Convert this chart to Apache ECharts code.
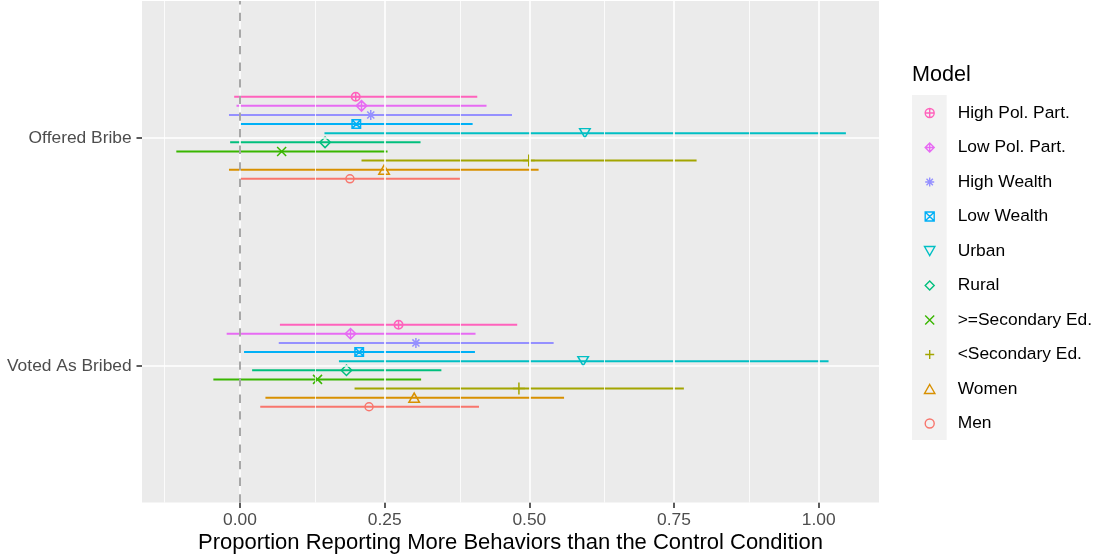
<!DOCTYPE html>
<html>
<head>
<meta charset="utf-8">
<title>Proportion Reporting More Behaviors than the Control Condition</title>
<script src="https://cdn.jsdelivr.net/npm/echarts@6/dist/echarts.min.js"></script>
<style>
  html, body { margin: 0; padding: 0; background: #ffffff; }
  #chart { width: 1098px; height: 555px; }
</style>
</head>
<body>
<div id="chart"></div>
<script>
// Outcomes, bottom to top on the vertical axis (positions 1 and 2)
const outcomes = ['Voted As Bribed', 'Offered Bribe'];

// Subgroup models, in factor order (first one is drawn lowest in each block)
const models = ['Men', 'Women', '<Secondary Ed.', '>=Secondary Ed.', 'Rural',
                'Urban', 'Low Wealth', 'High Wealth', 'Low Pol. Part.', 'High Pol. Part.'];

// Estimates with 95% interval bounds, one value per model
const offeredEst = [0.190, 0.249, 0.499, 0.072, 0.147, 0.596, 0.201, 0.226, 0.210, 0.200];
const offeredLo  = [0.001, -0.019, 0.210, -0.110, -0.017, 0.146, 0.001, -0.019, -0.006, -0.010];
const offeredHi  = [0.380, 0.516, 0.789, 0.255, 0.312, 1.047, 0.402, 0.470, 0.426, 0.410];

const votedEst = [0.223, 0.301, 0.482, 0.134, 0.184, 0.593, 0.206, 0.304, 0.191, 0.274];
const votedLo  = [0.035, 0.044, 0.198, -0.046, 0.021, 0.171, 0.007, 0.067, -0.023, 0.069];
const votedHi  = [0.413, 0.560, 0.767, 0.313, 0.348, 1.017, 0.406, 0.542, 0.407, 0.479];

// Axis ticks and gridlines
const xTicks = [0, 0.25, 0.5, 0.75, 1];
const xMinor = [-0.125, 0.125, 0.375, 0.625, 0.875];
const yTicks = [1, 2];

// ---- styling ----
const colors = ['#F8766D', '#D89000', '#A3A500', '#39B600', '#00BF7D',
                '#00BFC4', '#00B0F6', '#9590FF', '#E76BF3', '#FF62BC'];
const CIRCLE = 'M0,-1A1,1 0 1,1 0,1A1,1 0 1,1 0,-1Z';
const PLUS = 'M-1,0L1,0M0,-1L0,1';
const CROSS = 'M-1,-1L1,1M-1,1L1,-1';
const DIAMOND = 'M0,-1L1,0L0,1L-1,0Z';
const SQUARE = 'M-1,-1L1,-1L1,1L-1,1Z';
const shapes = [
  CIRCLE,
  'M0,-1L1,0.732L-1,0.732Z',
  PLUS,
  CROSS,
  DIAMOND,
  'M-1,-0.732L1,-0.732L0,1Z',
  SQUARE + 'M-1,-1L1,1M-1,1L1,-1',
  PLUS + 'M-0.707,-0.707L0.707,0.707M-0.707,0.707L0.707,-0.707',
  DIAMOND + PLUS,
  CIRCLE + PLUS
].map(p => 'path://' + p);
const shapeSizes = [8, [10.5, 9.1], 12, 9, 10.5, [10.5, 9.1], 8.5, 10, 10.5, 8.5];

const FONT = '"Liberation Sans", Arial, Helvetica, sans-serif';
const xMin = -0.1693, xMax = 1.1042;
const dodgeStep = 0.04;

const series = [];

// gridlines and the reference line at zero
series.push({
  type: 'line', z: 1, silent: true, data: [[0, 1]],
  showSymbol: false, symbol: 'none', lineStyle: { width: 0 },
  markLine: {
    silent: true, animation: false, symbol: ['none', 'none'],
    label: { show: false },
    data: [
      ...xMinor.map(v => ({ xAxis: v, lineStyle: { color: '#ffffff', width: 0.8, type: 'solid' } })),
      ...xTicks.map(v => ({ xAxis: v, lineStyle: { color: '#ffffff', width: 1.6, type: 'solid' } })),
      ...yTicks.map(v => ({ yAxis: v, lineStyle: { color: '#ffffff', width: 1.6, type: 'solid' } })),
      { xAxis: 0, lineStyle: { color: '#999999', width: 1.7, type: [8.3, 8.3] } }
    ]
  }
});

// interval bars, dodged within each outcome
models.forEach((m, k) => {
  const off = (k - (models.length - 1) / 2) * dodgeStep;
  series.push({
    type: 'custom', name: m, z: 2, silent: true,
    data: [[votedLo[k], votedHi[k], 1 + off], [offeredLo[k], offeredHi[k], 2 + off]],
    encode: { x: [0, 1], y: 2 },
    renderItem: (params, api) => {
      const a = api.coord([api.value(0), api.value(2)]);
      const b = api.coord([api.value(1), api.value(2)]);
      return {
        type: 'line',
        shape: { x1: a[0], y1: a[1], x2: b[0], y2: b[1] },
        style: { stroke: colors[k], lineWidth: 2 }
      };
    }
  });
});

// point estimates
models.forEach((m, k) => {
  const off = (k - (models.length - 1) / 2) * dodgeStep;
  series.push({
    type: 'scatter', name: m, z: 3, silent: true,
    data: [[votedEst[k], 1 + off], [offeredEst[k], 2 + off]],
    symbol: shapes[k], symbolSize: shapeSizes[k],
    itemStyle: { color: 'rgba(0,0,0,0)', borderColor: colors[k], borderWidth: 1.5, opacity: 1 }
  });
});

const chart = echarts.init(document.getElementById('chart'), null, { renderer: 'canvas' });
chart.setOption({
  animation: false,
  backgroundColor: '#ffffff',
  grid: {
    left: 142, right: 219, top: 1, bottom: 52.5,
    show: true, backgroundColor: '#EBEBEB', borderWidth: 0
  },
  xAxis: {
    type: 'value', min: xMin, max: xMax,
    axisLine: { show: false, onZero: false },
    splitLine: { show: false },
    axisTick: { show: true, customValues: xTicks, length: 5.5, lineStyle: { color: '#333333', width: 1.6 } },
    axisLabel: {
      customValues: xTicks, margin: 9,
      color: '#4D4D4D', fontSize: 17.4, fontFamily: FONT,
      formatter: v => v.toFixed(2)
    }
  },
  yAxis: {
    type: 'value', min: 0.4, max: 2.6,
    axisLine: { show: false, onZero: false },
    splitLine: { show: false },
    axisTick: { show: true, customValues: yTicks, length: 5.5, lineStyle: { color: '#333333', width: 1.6 } },
    axisLabel: {
      customValues: yTicks, margin: 10.3,
      color: '#4D4D4D', fontSize: 17.4, fontFamily: FONT,
      formatter: v => outcomes[Math.round(v) - 1]
    }
  },
  legend: {
    orient: 'vertical', left: 922, top: 104.5, padding: 0,
    itemWidth: 46, itemHeight: 9, itemGap: 17.5,
    selectedMode: false, symbolKeepAspect: true,
    textStyle: { color: '#000000', fontSize: 17.4, fontFamily: FONT, lineHeight: 9 },
    data: models.map((m, k) => ({
      name: m, icon: shapes[k],
      itemStyle: { color: 'none', borderColor: colors[k], borderWidth: 1.4 }
    })).reverse()
  },
  graphic: [
    { type: 'rect', z: -1, shape: { x: 912, y: 95, width: 34.7, height: 345 }, style: { fill: '#F2F2F2' }, silent: true },
    { type: 'text', style: { text: 'Model', x: 912, y: 75, verticalAlign: 'middle', fill: '#000000', fontSize: 21.6, fontFamily: FONT }, silent: true },
    { type: 'text', style: { text: 'Proportion Reporting More Behaviors than the Control Condition', x: 510.5, y: 543, align: 'center', verticalAlign: 'middle', fill: '#000000', fontSize: 22, fontFamily: FONT }, silent: true }
  ],
  series: series
});
</script>
</body>
</html>
